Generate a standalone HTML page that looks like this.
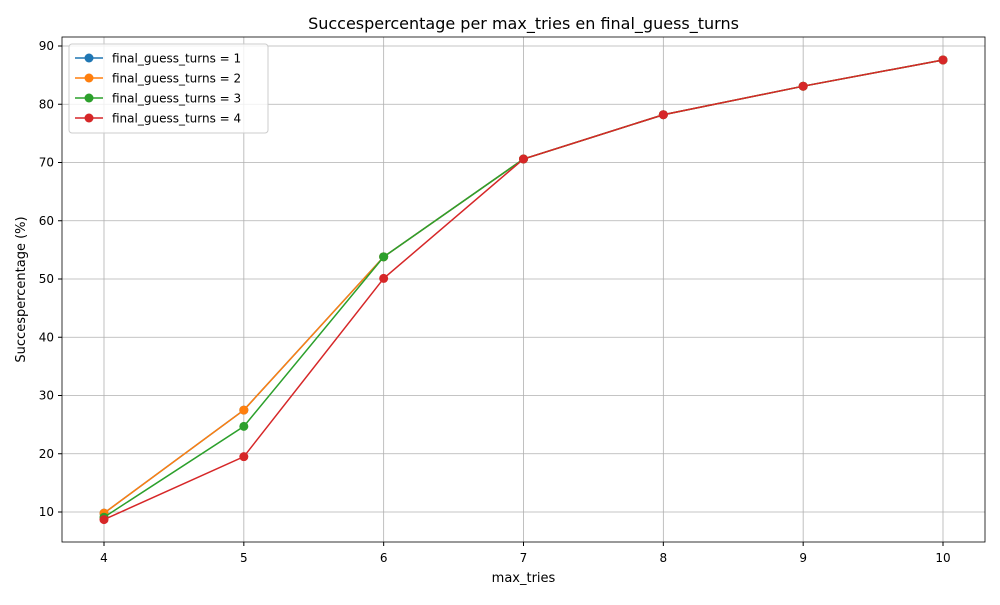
<!DOCTYPE html>
<html><head><meta charset="utf-8"><style>
body{margin:0;background:#fff;font-family:"Liberation Sans","DejaVu Sans",sans-serif;}
svg text{font-family:"DejaVu Sans","Liberation Sans",sans-serif;}
</style></head><body>
<svg id="c" width="1000" height="600" xmlns="http://www.w3.org/2000/svg"></svg>
<script>
const categories=[4,5,6,7,8,9,10];
const yTicks=[10,20,30,40,50,60,70,80,90];
const seriesNames=["final_guess_turns = 1","final_guess_turns = 2","final_guess_turns = 3","final_guess_turns = 4"];
const s1=[9.8,27.5,53.8,70.6,78.2,83.1,87.6];
const s2=[9.8,27.5,53.8,70.6,78.2,83.1,87.6];
const s3=[9.1,24.7,53.8,70.6,78.2,83.1,87.6];
const s4=[8.7,19.5,50.1,70.6,78.2,83.1,87.6];
const colors=["#1f77b4","#ff7f0e","#2ca02c","#d62728"];
const series=[s1,s2,s3,s4];
const L=62,R=985,T=37,B=542;
const xs=v=>104+(v-4)*(943-104)/6;
const ys=v=>512-(v-10)*(512-46)/80;
const svg=document.getElementById('c');
const NS="http://www.w3.org/2000/svg";
function mk(t,a,p){const e=document.createElementNS(NS,t);for(const k in a)e.setAttribute(k,a[k]);(p||svg).appendChild(e);return e;}
const grid=mk('g',{});


categories.forEach(c=>{mk('line',{x1:xs(c),x2:xs(c),y1:T,y2:B,stroke:'#b0b0b0','stroke-width':0.8},grid);
const t=mk('text',{x:xs(c),y:B+20,'text-anchor':'middle','font-size':12});t.textContent=c;


mk('line',{x1:xs(c),x2:xs(c),y1:B,y2:B+4,stroke:'#000'});});
yTicks.forEach(v=>{mk('line',{x1:L,x2:R,y1:ys(v),y2:ys(v),stroke:'#b0b0b0','stroke-width':0.8},grid);
const t=mk('text',{x:L-8,y:ys(v)+4,'text-anchor':'end','font-size':12});t.textContent=v;


mk('line',{x1:L-4,x2:L,y1:ys(v),y2:ys(v),stroke:'#000'});});
series.forEach((s,i)=>{const g=mk('g',{});


mk('polyline',{points:s.map((v,j)=>xs(categories[j])+','+ys(v)).join(' '),fill:'none',stroke:colors[i],'stroke-width':1.5},g);
s.forEach((v,j)=>{const p=mk('circle',{cx:xs(categories[j]),cy:ys(v),r:4.5,fill:colors[i]},g);

});});
const fr=mk('rect',{x:L,y:T,width:R-L,height:B-T,fill:'none',stroke:'#000','stroke-width':0.8});


const ti=mk('text',{x:(L+R)/2,y:29,'text-anchor':'middle','font-size':16});ti.textContent='Succespercentage per max_tries en final_guess_turns';


const xl=mk('text',{x:(L+R)/2,y:582,'text-anchor':'middle','font-size':13});xl.textContent='max_tries';


const yl=mk('text',{x:25,y:(T+B)/2,'text-anchor':'middle','font-size':13,transform:'rotate(-90 25 '+((T+B)/2)+')'});yl.textContent='Succespercentage (%)';


const lg=mk('g',{});


mk('rect',{x:69,y:44,width:199,height:89,rx:3,fill:'#fff','fill-opacity':0.8,stroke:'#ccc'},lg);
seriesNames.forEach((n,i)=>{const y=58+i*20;const e=mk('g',{},lg);


mk('line',{x1:75,x2:103,y1:y,y2:y,stroke:colors[i],'stroke-width':1.5},e);
mk('circle',{cx:89,cy:y,r:4.5,fill:colors[i]},e);
const t=mk('text',{x:112,y:y+4.5,'font-size':12},e);t.textContent=n;});
</script>
</body></html>
